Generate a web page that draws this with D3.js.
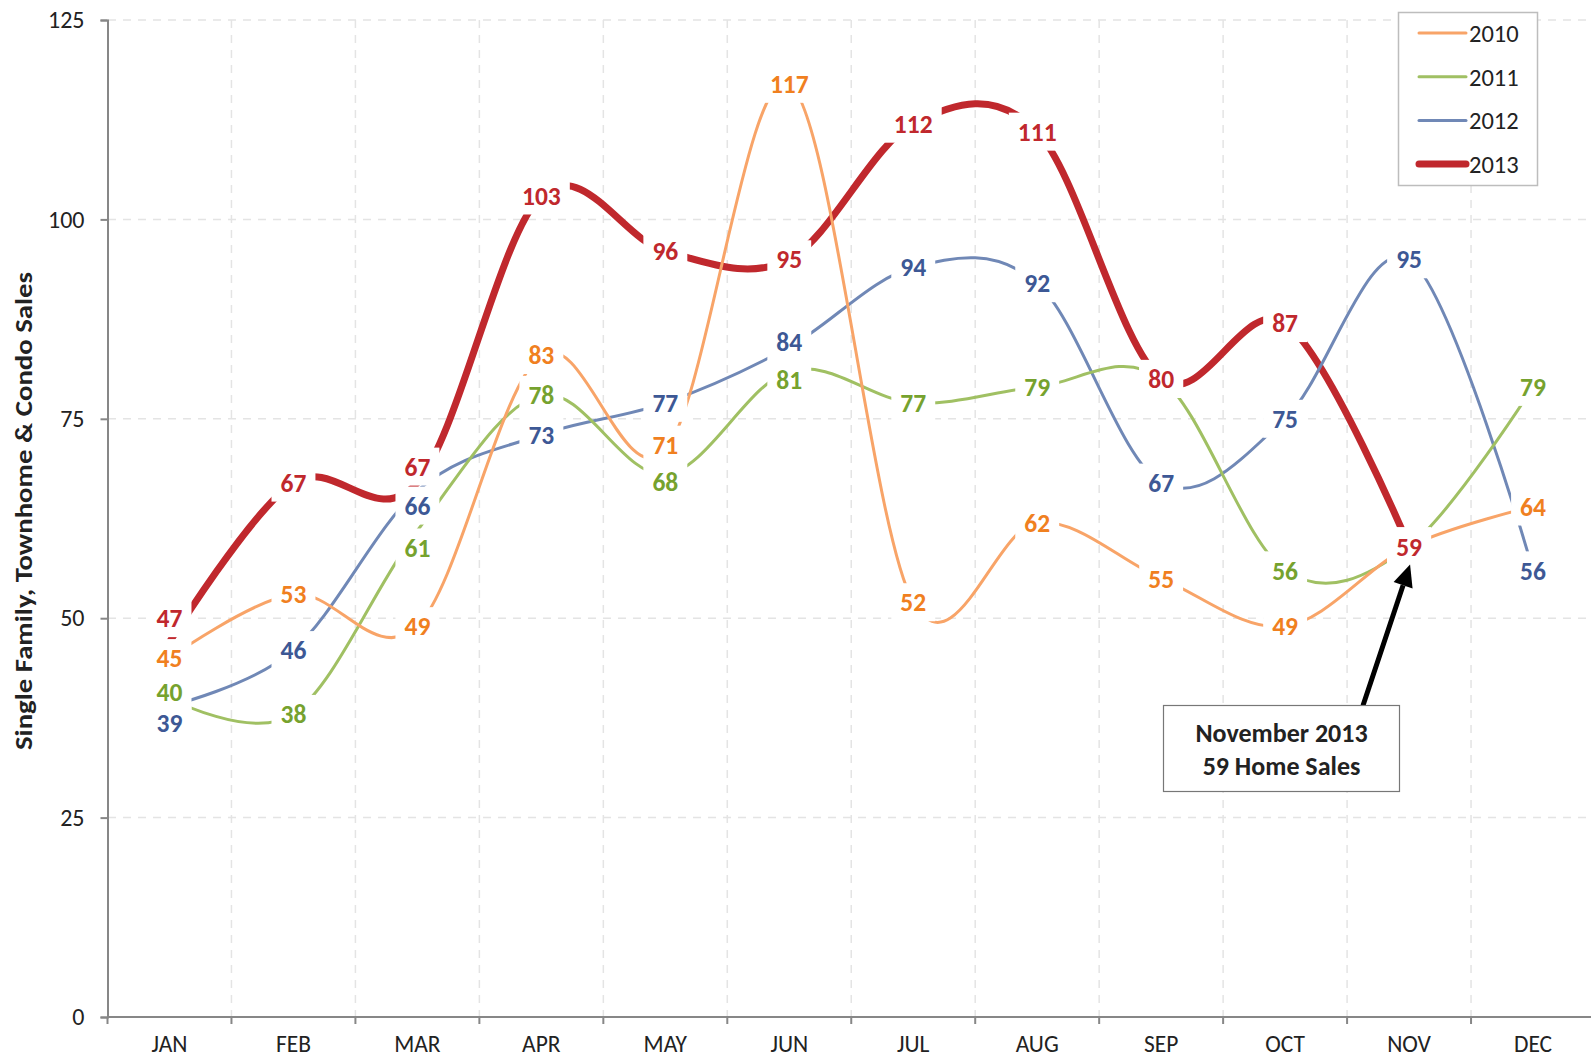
<!DOCTYPE html>
<html>
<head>
<meta charset="utf-8">
<script src="https://cdn.jsdelivr.net/npm/d3@7"></script>
<style>
  html, body { margin: 0; padding: 0; background: #fff; }
  svg { display: block; font-family: Carlito, Lato, "Open Sans", sans-serif; }
</style>
</head>
<body>
<div id="chart"></div>
<script>
var months = ['JAN', 'FEB', 'MAR', 'APR', 'MAY', 'JUN', 'JUL', 'AUG', 'SEP', 'OCT', 'NOV', 'DEC'];
var years = ['2010', '2011', '2012', '2013'];
var sales2010 = [45, 53, 49, 83, 71, 117, 52, 62, 55, 49, 59, 64];
var sales2011 = [40, 38, 61, 78, 68, 81, 77, 79, 80, 56, 59, 79];
var sales2012 = [39, 46, 66, 73, 77, 84, 94, 92, 67, 75, 95, 56];
var sales2013 = [47, 67, 67, 103, 96, 95, 112, 111, 80, 87, 59, null];
var yTicks = [0, 25, 50, 75, 100, 125];
var yTitle = 'Single Family, Townhome & Condo Sales';
var noteLines = ['November 2013', '59 Home Sales'];

// label nudges (px) where the original labels were moved apart
var nudge = {
  '2010': { 4: -6 },
  '2011': { 0: -6, 2: 17, 4: 7, 5: 9 },
  '2012': { 0: 17, 2: 15, 5: -5 },
  '2013': { 0: -24, 2: -16 }
};

var series = [
  { year: '2010', values: sales2010, line: '#F8A468', text: '#F0801F', width: 3 },
  { year: '2011', values: sales2011, line: '#A0C063', text: '#76A22E', width: 3 },
  { year: '2012', values: sales2012, line: '#7088B6', text: '#3D5895', width: 3 },
  { year: '2013', values: sales2013, line: '#C0282D', text: '#C0282D', width: 7 }
];

var W = 1591, H = 1058;
var svg = d3.select('#chart').append('svg').attr('width', W).attr('height', H);

var x = d3.scaleBand().domain(months).range([107.5, 1595]);
var y = d3.scaleLinear().domain([0, 125]).range([1017, 20]);
var cx = function (i) { return x(months[i]) + x.bandwidth() / 2; };

// grid
var grid = svg.append('g');
yTicks.filter(function (t) { return t > 0; }).forEach(function (t) {
  grid.append('line')
    .attr('x1', 108).attr('x2', W)
    .attr('y1', y(t)).attr('y2', y(t))
    .attr('stroke', '#e4e4e4').attr('stroke-width', 1.5)
    .attr('stroke-dasharray', '8,7');
});
months.forEach(function (m, i) {
  if (i === 0) return;
  grid.append('line')
    .attr('x1', x(m)).attr('x2', x(m))
    .attr('y1', y(125)).attr('y2', y(0))
    .attr('stroke', '#e4e4e4').attr('stroke-width', 1.5)
    .attr('stroke-dasharray', '8,7');
});

// axes
var yAxis = svg.append('g')
  .attr('transform', 'translate(107.5,0)')
  .call(d3.axisLeft(y).tickValues(yTicks).tickSize(7).tickPadding(16));
var xAxis = svg.append('g')
  .attr('transform', 'translate(0,1017)')
  .call(d3.axisBottom(x).tickSize(0).tickPadding(18.5));
[yAxis, xAxis].forEach(function (a) {
  a.select('.domain').attr('stroke', '#878787').attr('stroke-width', 2);
  a.selectAll('.tick line').attr('stroke', '#878787').attr('stroke-width', 2);
  a.selectAll('.tick text').attr('font-size', 24).attr('fill', '#222')
    .style('font-family', 'Carlito, Lato, "Open Sans", sans-serif');
});
xAxis.selectAll('.tick text').attr('font-size', 23.5);
xAxis.select('.domain').attr('d', 'M107.5,0H' + W);
months.forEach(function (m) {
  xAxis.append('line')
    .attr('x1', x(m)).attr('x2', x(m)).attr('y1', 0).attr('y2', 7)
    .attr('stroke', '#878787').attr('stroke-width', 2);
});

svg.append('text')
  .attr('transform', 'translate(32,511) rotate(-90)')
  .attr('text-anchor', 'middle')
  .attr('font-size', 25).attr('font-weight', 'bold').attr('fill', '#222')
  .attr('textLength', 478).attr('lengthAdjust', 'spacingAndGlyphs')
  .text(yTitle);

// lines, 2013 underneath
var line = d3.line()
  .defined(function (d) { return d != null; })
  .x(function (d, i) { return cx(i); })
  .y(function (d) { return y(d); })
  .curve(d3.curveCardinal.tension(0));

series.slice().reverse().forEach(function (s) {
  svg.append('path')
    .attr('d', line(s.values))
    .attr('fill', 'none')
    .attr('stroke', s.line)
    .attr('stroke-width', s.width);
});

// data labels with white boxes
var labels = svg.append('g');
series.forEach(function (s) {
  s.values.forEach(function (v, i) {
    if (v == null) return;
    var dy = (nudge[s.year] && nudge[s.year][i]) || 0;
    var g = labels.append('g').attr('transform', 'translate(' + cx(i) + ',' + (y(v) + dy) + ')');
    var r = g.append('rect').attr('fill', '#fff');
    var t = g.append('text')
      .attr('text-anchor', 'middle').attr('dy', '0.36em')
      .attr('font-size', 25.5).attr('font-weight', 'bold')
      .attr('fill', s.text).text(v);
    var b = t.node().getBBox();
    r.attr('x', b.x - 9).attr('y', -19).attr('width', b.width + 18).attr('height', 38);
  });
});

// legend
var leg = svg.append('g');
leg.append('rect')
  .attr('x', 1398.5).attr('y', 12.5).attr('width', 139).attr('height', 173)
  .attr('fill', '#fff').attr('stroke', '#bdbdbd').attr('stroke-width', 1.5);
series.forEach(function (s, i) {
  var ly = 33 + i * 43.7;
  leg.append('line')
    .attr('x1', 1419).attr('x2', 1466).attr('y1', ly).attr('y2', ly)
    .attr('stroke', s.line).attr('stroke-width', s.width)
    .attr('stroke-linecap', 'round');
  leg.append('text')
    .attr('x', 1469).attr('y', ly).attr('dy', '0.36em')
    .attr('font-size', 24.5).attr('fill', '#222')
    .text(s.year);
});

// annotation
var nov = months.indexOf('NOV');
var tipX = cx(nov) + 1, tipY = y(sales2013[nov]) + 18;
var boxX = 1163.5, boxY = 705.5, boxW = 236, boxH = 86;
var baseX = 1363, baseY = boxY;
var ang = Math.atan2(tipY - baseY, tipX - baseX);
var headL = 22, headW = 10;
var neckX = tipX - headL * Math.cos(ang), neckY = tipY - headL * Math.sin(ang);
svg.append('line')
  .attr('x1', baseX).attr('y1', baseY).attr('x2', neckX).attr('y2', neckY)
  .attr('stroke', '#000').attr('stroke-width', 5);
svg.append('path')
  .attr('d', 'M' + tipX + ',' + tipY +
    'L' + (neckX + headW * Math.sin(ang)) + ',' + (neckY - headW * Math.cos(ang)) +
    'L' + (neckX - headW * Math.sin(ang)) + ',' + (neckY + headW * Math.cos(ang)) + 'Z')
  .attr('fill', '#000');
svg.append('rect')
  .attr('x', boxX).attr('y', boxY).attr('width', boxW).attr('height', boxH)
  .attr('fill', '#fff').attr('stroke', '#777').attr('stroke-width', 1.2);
noteLines.forEach(function (l, i) {
  svg.append('text')
    .attr('x', boxX + boxW / 2).attr('y', 733 + i * 33).attr('dy', '0.36em')
    .attr('text-anchor', 'middle')
    .attr('font-size', 26).attr('font-weight', 'bold').attr('fill', '#222')
    .text(l);
});
</script>
</body>
</html>
